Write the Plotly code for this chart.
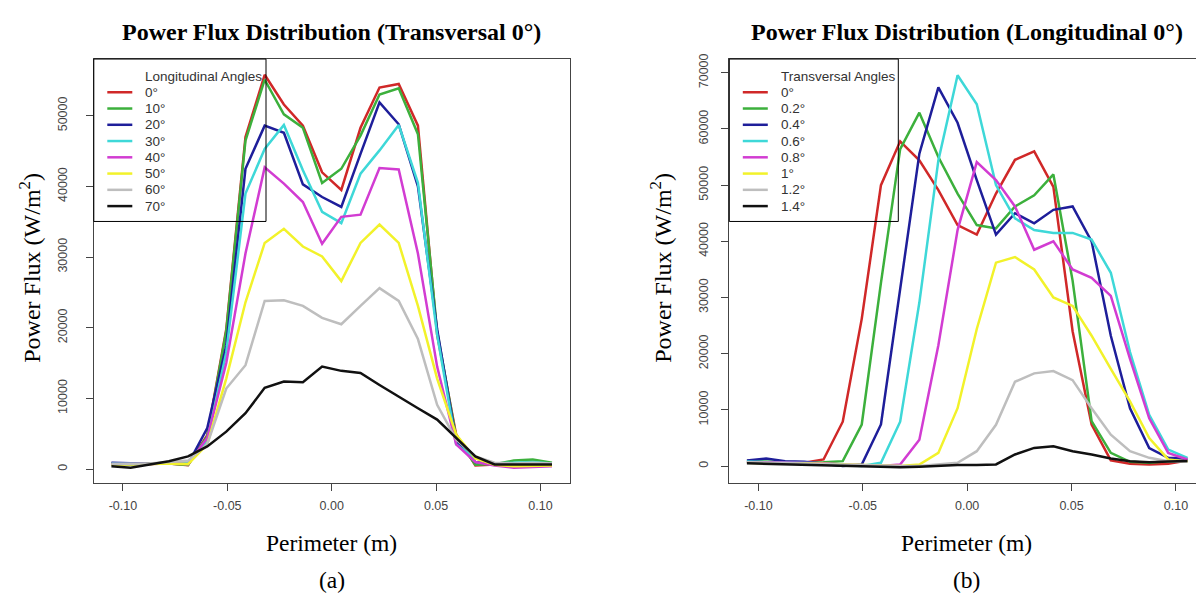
import plotly.graph_objects as go

# ---------------------------------------------------------------- data
perimeter = [-0.1055, -0.0963, -0.0872, -0.0780, -0.0688, -0.0596, -0.0505, -0.0413,
             -0.0321, -0.0229, -0.0138, -0.0046, 0.0046, 0.0138, 0.0229, 0.0321,
             0.0413, 0.0505, 0.0596, 0.0688, 0.0780, 0.0872, 0.0963, 0.1055]

# (a) transversal 0°, varying longitudinal angle
long_labels = ["0°", "10°", "20°", "30°", "40°", "50°", "60°", "70°"]
long_0 = [800, 700, 700, 800, 560, 4800, 19800, 47000, 55800, 51600, 48600, 42000,
          39500, 48300, 54000, 54500, 48600, 19000, 4900, 500, 650, 750, 900, 800]
long_10 = [700, 650, 750, 800, 600, 4600, 19500, 46500, 55100, 50200, 48300, 40500,
           42500, 47200, 53000, 53900, 47400, 19500, 4500, 600, 700, 1200, 1350, 900]
long_20 = [900, 800, 750, 900, 700, 5800, 17500, 42500, 48600, 47600, 40300, 38500,
           37100, 44600, 51900, 48800, 40000, 19800, 3900, 1000, 700, 800, 900, 700]
long_30 = [800, 700, 700, 1000, 900, 4000, 16500, 39000, 45300, 48700, 42300, 36400,
           34800, 41800, 45100, 48700, 40500, 19000, 3500, 1500, 800, 900, 1000, 800]
long_40 = [700, 650, 700, 900, 700, 4400, 15000, 30500, 42700, 40400, 37800, 31900,
           35700, 36000, 42600, 42400, 30500, 14500, 3500, 1000, 500, 200, 300, 400]
long_50 = [600, 600, 700, 800, 700, 3500, 12800, 23600, 32000, 34000, 31500, 30100,
           26600, 32000, 34600, 32000, 23100, 12800, 4900, 1500, 600, 400, 500, 500]
long_60 = [700, 700, 800, 1000, 1200, 3500, 11400, 14700, 23800, 23900, 23100, 21400,
           20500, 23100, 25600, 23800, 18400, 9100, 4200, 1800, 900, 800, 900, 800]
long_70 = [400, 200, 650, 1100, 1800, 3200, 5300, 7900, 11500, 12400, 12300, 14500,
           13900, 13600, 11900, 10200, 8600, 7000, 4400, 1800, 650, 600, 650, 650]

# (b) longitudinal 0°, varying transversal angle
trans_labels = ["0°", "0.2°", "0.4°", "0.6°", "0.8°", "1°", "1.2°", "1.4°"]
trans_00 = [760, 590, 410, 590, 1180, 7900, 26200, 50000, 57800, 54400, 49100, 42900,
            41200, 48500, 54500, 56000, 49700, 24000, 7400, 1000, 410, 290, 410, 1000]
trans_02 = [900, 800, 700, 650, 700, 880, 7400, 32600, 56400, 62900, 55000, 48500,
            42900, 42300, 46200, 48200, 51900, 33000, 8000, 2350, 760, 590, 880, 1000]
trans_04 = [1000, 1350, 880, 760, 410, 0, 290, 7400, 31500, 55600, 67400, 61100,
            50900, 41200, 45000, 43200, 45600, 46200, 40000, 23200, 10300, 3200, 1470, 1350]
trans_06 = [800, 700, 650, 600, 500, 200, 0, 590, 7900, 29100, 54400, 69550,
            64400, 50000, 44100, 42000, 41500, 41500, 40300, 34400, 20300, 9100, 2940, 1470]
trans_08 = [700, 650, 600, 550, 500, 300, 100, 0, 290, 4700, 21500, 42000,
            54100, 50900, 46200, 38500, 40000, 35000, 33500, 30300, 19100, 8500, 2350, 1180]
trans_10 = [600, 500, 400, 500, 400, 300, 200, 100, 0, 290, 2350, 10300,
            24400, 36200, 37200, 35000, 30000, 28500, 23200, 17300, 11500, 5000, 1180, 760]
trans_12 = [700, 600, 500, 400, 300, 200, 100, 0, 0, 0, 290, 590,
            2650, 7350, 15000, 16500, 16900, 15300, 10300, 5600, 2650, 1470, 880, 760]
trans_14 = [500, 400, 300, 300, 200, 100, 0, -200, -200, -100, 100, 200,
            200, 300, 2060, 3230, 3530, 2650, 2060, 1350, 880, 700, 800, 900]

x_tick_vals = [-0.10, -0.05, 0.00, 0.05, 0.10]
x_tick_text = ["-0.10", "-0.05", "0.00", "0.05", "0.10"]
y_ticks_a = [0, 10000, 20000, 30000, 40000, 50000]
y_ticks_b = [0, 10000, 20000, 30000, 40000, 50000, 60000, 70000]

series_a = [long_0, long_10, long_20, long_30, long_40, long_50, long_60, long_70]
series_b = [trans_00, trans_02, trans_04, trans_06, trans_08, trans_10, trans_12, trans_14]
colors = ["#D02828", "#3CB03C", "#1E1E9A", "#3ED8D8", "#D23CD2", "#F2F22A", "#BEBEBE", "#111111"]

# ---------------------------------------------------------------- geometry
W, H = 1196, 595
SANS = "Liberation Sans, Arial, sans-serif"
SERIF = "Liberation Serif, Times New Roman, serif"
AXIS_COL = "#444444"


def fx(p):
    return p / W


def fy(p):
    return 1 - p / H


box_top, box_bot = 54.5, 482.5
left_a, right_a = 93.8, 569.6
left_b = 729.3

fig = go.Figure()

for vals, name, col in zip(series_a, long_labels, colors):
    fig.add_trace(go.Scatter(x=perimeter, y=vals, mode="lines", name=name,
                             line=dict(color=col, width=2.5), xaxis="x", yaxis="y",
                             showlegend=False))
for vals, name, col in zip(series_b, trans_labels, colors):
    fig.add_trace(go.Scatter(x=perimeter, y=vals, mode="lines", name=name,
                             line=dict(color=col, width=2.5), xaxis="x2", yaxis="y2",
                             showlegend=False))

tickfont = dict(family=SANS, size=12.5, color="#444444")
common_x = dict(showgrid=False, zeroline=False, showline=True, linecolor=AXIS_COL, linewidth=1,
                ticks="outside", ticklen=7, tickcolor=AXIS_COL, tickvals=x_tick_vals,
                ticktext=x_tick_text, tickfont=tickfont, ticklabelstandoff=4)
common_y = dict(showgrid=False, zeroline=False, showline=True, linecolor=AXIS_COL, linewidth=1,
                ticks="outside", ticklen=7, tickcolor=AXIS_COL, tickformat="d",
                tickangle=-90, tickfont=tickfont)

x_b_right = (W - 966.7) / 2092.0

fig.update_layout(
    width=W, height=H, margin=dict(l=0, r=0, t=0, b=0),
    paper_bgcolor="white", plot_bgcolor="white",
    xaxis=dict(domain=[fx(left_a), fx(right_a)], range=[-0.11394, 0.11394], mirror=True,
               anchor="y", **common_x),
    yaxis=dict(domain=[fy(box_bot), fy(box_top)], range=[-2035, 58030], mirror=True,
               anchor="x", tickvals=y_ticks_a, ticklabelstandoff=14, **common_y),
    xaxis2=dict(domain=[fx(left_b), 1.0], range=[-0.11394, x_b_right], mirror=True,
                anchor="y2", **common_x),
    yaxis2=dict(domain=[fy(box_bot), fy(box_top)], range=[-3090, 72440], mirror=False,
                anchor="x2", tickvals=y_ticks_b, ticklabelstandoff=8, **common_y),
)

annotations = []
shapes = []

# panel titles, axis titles and sub-captions
panels = [
    (331.7, 30.0, "Power Flux Distribution (Transversal 0°)", "(a)"),
    (966.7, 661.0, "Power Flux Distribution (Longitudinal 0°)", "(b)"),
]
for cx, ytitle_x, title, cap in panels:
    annotations.append(dict(text="<b>" + title + "</b>", x=fx(cx), y=fy(27), xref="paper", yref="paper",
                            xanchor="center", yanchor="middle", showarrow=False,
                            font=dict(family=SERIF, size=24, color="black")))
    annotations.append(dict(text="Perimeter (m)", x=fx(cx), y=fy(543), xref="paper", yref="paper",
                            xanchor="center", yanchor="middle", showarrow=False,
                            font=dict(family=SERIF, size=23.5, color="black")))
    annotations.append(dict(text=cap, x=fx(cx), y=fy(580), xref="paper", yref="paper",
                            xanchor="center", yanchor="middle", showarrow=False,
                            font=dict(family=SERIF, size=23.5, color="black")))
    annotations.append(dict(text="Power Flux (W/m<sup>2</sup>)", x=fx(ytitle_x), y=fy(265),
                            xref="paper", yref="paper", xanchor="center", yanchor="middle",
                            textangle=-90, showarrow=False,
                            font=dict(family=SERIF, size=24, color="black")))

# legend boxes drawn inside the upper-left corner of each panel
legends = [
    (left_a, 266.0, "Longitudinal Angles", long_labels),
    (left_b, 898.3, "Transversal Angles", trans_labels),
]
leg_bottom = 218.3
for lx, rx, ltitle, labels in legends:
    shapes.append(dict(type="rect", xref="paper", yref="paper", x0=fx(lx), x1=fx(rx),
                       y0=fy(leg_bottom), y1=fy(box_top), line=dict(color="black", width=1),
                       fillcolor="rgba(0,0,0,0)", layer="above"))
    annotations.append(dict(text=ltitle, x=fx(lx + 49.5), y=fy(72.5), xref="paper", yref="paper",
                            xanchor="left", yanchor="middle", showarrow=False,
                            font=dict(family=SANS, size=13.5, color="#333333")))
    for k, (lab, col) in enumerate(zip(labels, colors)):
        yk = 88.0 + 16.4 * k
        shapes.append(dict(type="line", xref="paper", yref="paper", x0=fx(lx + 13.5),
                           x1=fx(lx + 38.5), y0=fy(yk), y1=fy(yk),
                           line=dict(color=col, width=2.5)))
        annotations.append(dict(text=lab, x=fx(lx + 49.5), y=fy(yk), xref="paper", yref="paper",
                                xanchor="left", yanchor="middle", showarrow=False,
                                font=dict(family=SANS, size=13.5, color="#333333")))

fig.update_layout(annotations=annotations, shapes=shapes)
fig.write_html("out.html")
